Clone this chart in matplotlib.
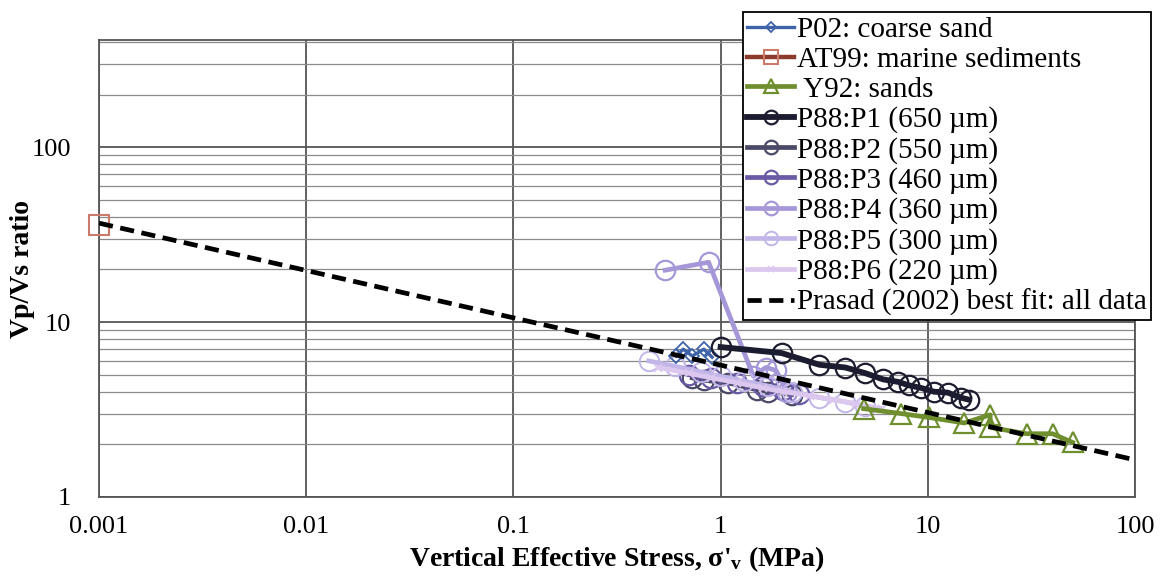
"""
    Vp/Vs ratio versus vertical effective stress, log-log comparison of data sets
"""

import matplotlib
matplotlib.use("Agg")
import numpy as np
from matplotlib import pyplot as plt
from matplotlib import ticker

# ---- data ----
p02_x = [0.61, 0.66, 0.73, 0.83, 0.91]
p02_y = [6.4, 7.0, 6.4, 7.0, 6.3]

at99_x = [0.001]
at99_y = [36.0]

y92_x = [4.9, 7.4, 10.1, 15.0, 20.0, 20.0, 30.0, 40.0, 50.0]
y92_y = [3.2, 3.0, 2.85, 2.65, 2.95, 2.5, 2.3, 2.3, 2.05]

p1_x = [1.0, 1.97, 3.0, 4.0, 5.0, 6.1, 7.2, 8.1, 9.3, 10.7, 12.5, 14.4, 15.8]
p1_y = [7.2, 6.65, 5.7, 5.5, 5.1, 4.7, 4.55, 4.35, 4.2, 4.0, 3.95, 3.7, 3.6]

p2_x = [0.73, 0.83, 1.08, 1.5, 1.7, 2.2]
p2_y = [4.8, 4.65, 4.5, 4.1, 4.0, 3.85]

p3_x = [0.7, 0.9, 1.2, 1.6, 2.0, 2.4]
p3_y = [5.0, 4.8, 4.5, 4.3, 4.1, 3.9]

p4_x = [0.54, 0.875, 1.44, 1.65, 1.85, 2.1]
p4_y = [19.8, 22.0, 4.9, 5.5, 5.3, 4.0]

p5_x = [0.45, 0.6, 0.8, 1.0, 1.3, 1.7, 2.2, 3.0, 4.0, 5.0]
p5_y = [6.0, 5.6, 5.2, 4.9, 4.6, 4.3, 4.0, 3.7, 3.5, 3.3]

p6_x = [0.5, 0.7, 0.9, 1.2, 1.6, 2.0, 2.7, 3.5, 4.5, 6.0]
p6_y = [5.5, 5.1, 4.8, 4.5, 4.2, 4.0, 3.8, 3.6, 3.4, 3.2]

prasad_x = [0.001, 100]
prasad_y = [36.8, 1.63]

x_ticks = [0.001, 0.01, 0.1, 1, 10, 100]
x_tick_labels = ["0.001", "0.01", "0.1", "1", "10", "100"]
y_ticks = [1, 10, 100]
y_tick_labels = ["1", "10", "100"]

plt.rcParams["font.family"] = ["Liberation Serif", "DejaVu Serif"]
plt.rcParams["mathtext.default"] = "regular"

fig = plt.figure(figsize=(11.61, 5.86), dpi=100)
ax = fig.add_axes([0.0853, 0.1519, 0.9776 - 0.0853, 0.9317 - 0.1519])

lw = 3.4
ax.plot(p02_x, p02_y, color="#3f63a8", lw=2.4, marker="D", ms=7, mfc="none", mew=1.3,
        label="P02: coarse sand", zorder=4)
ax.plot(at99_x, at99_y, color="#8c3a2c", lw=3.2, marker="s", ms=15, mfc="none", mec="#cc7a6a",
        mew=1.5, label="AT99: marine sediments", zorder=5, clip_on=False)
ax.plot(y92_x, y92_y, color="#6f8f2e", lw=lw, marker="^", ms=14, mfc="none", mew=1.6,
        label=" Y92: sands", zorder=4)
ax.plot(p1_x, p1_y, color="#1c1c30", lw=lw + 0.8, marker="o", ms=14, mfc="none", mew=1.6,
        label="P88:P1 (650 µm)", zorder=4)
ax.plot(p2_x, p2_y, color="#4a4a68", lw=lw, marker="o", ms=14, mfc="none", mew=1.6,
        label="P88:P2 (550 µm)", zorder=3)
ax.plot(p3_x, p3_y, color="#6a5aa6", lw=lw, marker="o", ms=14, mfc="none", mew=1.6,
        label="P88:P3 (460 µm)", zorder=3)
ax.plot(p4_x, p4_y, color="#a597d8", lw=lw, marker="o", ms=14, mfc="none", mew=1.6,
        label="P88:P4 (360 µm)", zorder=3)
ax.plot(p5_x, p5_y, color="#c2b6e8", lw=lw, marker="o", ms=14, mfc="none", mew=1.4,
        label="P88:P5 (300 µm)", zorder=3)
ax.plot(p6_x, p6_y, color="#dcc8ee", lw=lw, marker="x", ms=6, mew=1.2,
        label="P88:P6 (220 µm)", zorder=3)
ax.plot(prasad_x, prasad_y, color="black", lw=3.4, ls=(0, (3, 1.6)),
        label="Prasad (2002) best fit: all data", zorder=6)

ax.set_xscale("log")
ax.set_yscale("log")
ax.set_xlim(0.001, 100)
ax.set_ylim(1, 410)

ax.xaxis.set_major_locator(ticker.FixedLocator(x_ticks))
ax.xaxis.set_major_formatter(ticker.FixedFormatter(x_tick_labels))
ax.xaxis.set_minor_locator(ticker.NullLocator())
ax.yaxis.set_major_locator(ticker.FixedLocator(y_ticks))
ax.yaxis.set_major_formatter(ticker.FixedFormatter(y_tick_labels))
ax.yaxis.set_minor_locator(ticker.LogLocator(base=10, subs=np.arange(2, 10)))
ax.yaxis.set_minor_formatter(ticker.NullFormatter())

ax.grid(True, which="major", axis="both", color="#555555", lw=1.3)
ax.grid(True, which="minor", axis="y", color="#8a8a8a", lw=0.9)
ax.set_axisbelow(True)
ax.tick_params(which="both", length=0, labelsize=19)
ax.tick_params(axis="x", pad=14)
ax.tick_params(axis="y", pad=20)
for s in ax.spines.values():
    s.set_color("#555555")
    s.set_linewidth(1.3)

ax.set_xlabel("Vertical Effective Stress, σ'$_v$ (MPa)", fontsize=20, fontweight="bold", labelpad=4)
ax.set_ylabel("Vp/Vs ratio", fontsize=20, fontweight="bold", labelpad=-2)

leg = fig.legend(loc="upper left", bbox_to_anchor=(743 / 1161, 1 - 12 / 586), fontsize=21,
                 frameon=True, fancybox=False, edgecolor="black", framealpha=1,
                 labelspacing=0.12, handlelength=1.6, handletextpad=0.1, borderpad=0.15,
                 borderaxespad=0, markerscale=0.7)
leg.get_frame().set_linewidth(1.3)

fig.savefig("out.png", dpi=100)
